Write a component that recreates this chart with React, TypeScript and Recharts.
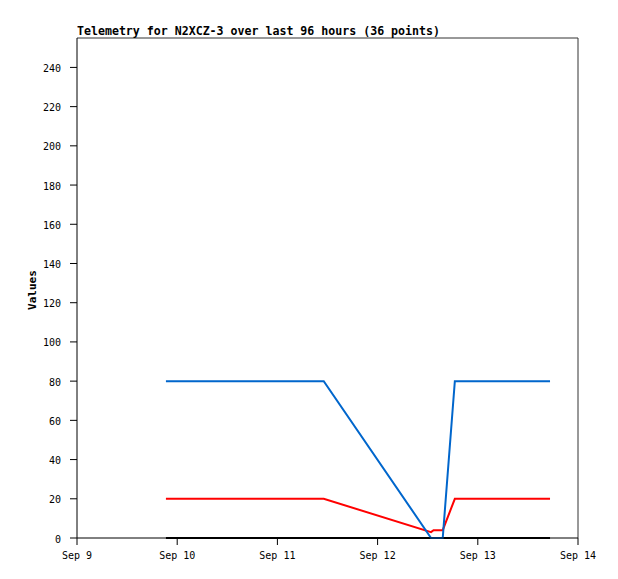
import { Line, LineChart, ReferenceLine, XAxis, YAxis } from 'recharts'

// hours since Sep 9 00:00
const hours = [21.3, 59.1, 84.8, 85.4, 87.6, 90.5, 113.3]
const blueVals = [80, 80, 0, 0, 0, 80, 80]
const redVals = [20, 20, 3, 4, 4, 20, 20]
const blackVals = [0, 0, 0, 0, 0, 0, 0]

const xTicks = [0, 24, 48, 72, 96, 120]
const xLabels = ['Sep 9', 'Sep 10', 'Sep 11', 'Sep 12', 'Sep 13', 'Sep 14']
const yTicks = [0, 20, 40, 60, 80, 100, 120, 140, 160, 180, 200, 220, 240]

const data = hours.map((h, i) => ({
  h,
  blue: blueVals[i],
  red: redVals[i],
  black: blackVals[i],
}))

const mono = '"DejaVu Sans Mono", "Liberation Mono", monospace'

export default function App() {
  return (
    <div style={{ position: 'absolute', left: 0, top: 0, width: 618, height: 579, background: '#fff' }}>
      <LineChart width={618} height={579} data={data} margin={{ top: 38, right: 40, left: 0, bottom: 0 }}>
        <XAxis
          dataKey="h"
          type="number"
          domain={[0, 120]}
          ticks={xTicks}
          tickFormatter={(v: number) => xLabels[xTicks.indexOf(v)]}
          height={41}
          tickSize={7}
          tickMargin={7}
          stroke="#000"
          tick={{ fill: '#000', fontSize: 10, fontFamily: mono }}
        />
        <YAxis
          type="number"
          domain={[0, 255]}
          ticks={yTicks}
          width={77}
          tickSize={7}
          tickMargin={9}
          stroke="#000"
          tick={{ fill: '#000', fontSize: 10, fontFamily: mono, dy: 1 }}
        />
        <ReferenceLine y={255} stroke="#333" strokeWidth={1} />
        <ReferenceLine x={120} stroke="#333" strokeWidth={1} />
        <Line type="linear" dataKey="black" stroke="#000" strokeWidth={2} dot={false} isAnimationActive={false} />
        <Line type="linear" dataKey="red" stroke="#ff0000" strokeWidth={2} dot={false} isAnimationActive={false} />
        <Line type="linear" dataKey="blue" stroke="#0066cc" strokeWidth={2} dot={false} isAnimationActive={false} />
      </LineChart>
      <svg width={618} height={579} style={{ position: 'absolute', left: 0, top: 0, pointerEvents: 'none' }}>
        <text x={77} y={35} fontFamily={mono} fontSize={11.6} fontWeight="bold" fill="#000">
          Telemetry for N2XCZ-3 over last 96 hours (36 points)
        </text>
        <text
          transform="translate(36,290) rotate(-90)"
          textAnchor="middle"
          fontFamily={mono}
          fontSize={11}
          fontWeight="bold"
          fill="#000"
        >
          Values
        </text>
      </svg>
    </div>
  )
}
